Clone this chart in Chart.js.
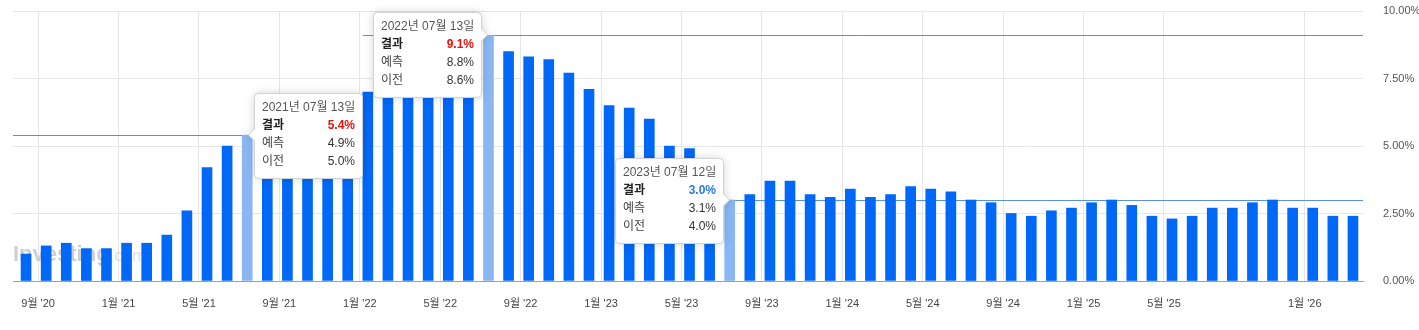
<!DOCTYPE html>
<html>
<head>
<meta charset="utf-8">
<script src="https://cdn.jsdelivr.net/npm/chart.js@4"></script>
<style>
  body { margin: 0; background: #fff; }
  canvas { display: block; }
</style>
</head>
<body>
<canvas id="grafico" width="1419" height="330"></canvas>
<script>
// release months (one bar per release)
var releaseMonths = [
  '2020-08', '2020-09', '2020-10', '2020-11', '2020-12',
  '2021-01', '2021-02', '2021-03', '2021-04', '2021-05', '2021-06', '2021-07', '2021-08', '2021-09', '2021-10', '2021-11', '2021-12',
  '2022-01', '2022-02', '2022-03', '2022-04', '2022-05', '2022-06', '2022-07', '2022-08', '2022-09', '2022-10', '2022-11', '2022-12',
  '2023-01', '2023-02', '2023-03', '2023-04', '2023-05', '2023-06', '2023-07', '2023-08', '2023-09', '2023-10', '2023-11', '2023-12',
  '2024-01', '2024-02', '2024-03', '2024-04', '2024-05', '2024-06', '2024-07', '2024-08', '2024-09', '2024-10', '2024-11', '2024-12',
  '2025-01', '2025-02', '2025-03', '2025-04', '2025-05', '2025-06', '2025-07', '2025-08', '2025-09', '2025-10', '2025-12',
  '2026-01', '2026-02', '2026-03'
];

var actual = [
  1.0, 1.3, 1.4, 1.2, 1.2,
  1.4, 1.4, 1.7, 2.6, 4.2, 5.0, 5.4, 5.4, 5.3, 5.4, 6.2, 6.8,
  7.0, 7.5, 7.9, 8.5, 8.3, 8.6, 9.1, 8.5, 8.3, 8.2, 7.7, 7.1,
  6.5, 6.4, 6.0, 5.0, 4.9, 4.0, 3.0, 3.2, 3.7, 3.7, 3.2, 3.1,
  3.4, 3.1, 3.2, 3.5, 3.4, 3.3, 3.0, 2.9, 2.5, 2.4, 2.6, 2.7,
  2.9, 3.0, 2.8, 2.4, 2.3, 2.4, 2.7, 2.7, 2.9, 3.0, 2.7,
  2.7, 2.4, 2.4
];

// x axis labels
var tickMonths = ['2020-09', '2021-01', '2021-05', '2021-09', '2022-01', '2022-05', '2022-09', '2023-01',
  '2023-05', '2023-09', '2024-01', '2024-05', '2024-09', '2025-01', '2025-05', '2026-01'];
var tickLabels = ["9월 '20", "1월 '21", "5월 '21", "9월 '21", "1월 '22", "5월 '22", "9월 '22", "1월 '23",
  "5월 '23", "9월 '23", "1월 '24", "5월 '24", "9월 '24", "1월 '25", "5월 '25", "1월 '26"];

var yTicks = [0, 2.5, 5, 7.5, 10];

// highlighted releases with their popups
var tipMonths = ['2021-07', '2022-07', '2023-07'];
var tipDates = ['2021년 07월 13일', '2022년 07월 13일', '2023년 07월 12일'];
var tipForecast = [4.9, 8.8, 3.1];
var tipPrevious = [5.0, 8.6, 4.0];

var tipIdx = tipMonths.map(function (m) { return releaseMonths.indexOf(m); });

// each month label sits just after the last release before that month
var tickPos = tickMonths.map(function (m) {
  var last = 0;
  releaseMonths.forEach(function (r, i) { if (r < m) last = i; });
  return last + 0.6;
});

var FONT = '"Liberation Sans", "Noto Sans CJK KR", sans-serif';
var BLUE = '#0068f6';
var LIGHT = '#8ab7f4';

var tipStyle = {
  side: ['right', 'left', 'left'],
  // where each guide line runs (bar index, or edge of the plot)
  lineFrom: ['left', 17, 35],
  lineTo: [11, 'right', 'right']
};

function tipPath(ctx, l, t, w, h, r, side, cy) {
  var rgt = l + w, btm = t + h, c = 6;
  ctx.beginPath();
  ctx.moveTo(l + r, t);
  ctx.lineTo(rgt - r, t);
  ctx.arcTo(rgt, t, rgt, t + r, r);
  if (side === 'left') {
    ctx.lineTo(rgt, cy - c);
    ctx.lineTo(rgt + c, cy);
    ctx.lineTo(rgt, cy + c);
  }
  ctx.lineTo(rgt, btm - r);
  ctx.arcTo(rgt, btm, rgt - r, btm, r);
  ctx.lineTo(l + r, btm);
  ctx.arcTo(l, btm, l, btm - r, r);
  if (side === 'right') {
    ctx.lineTo(l, cy + c);
    ctx.lineTo(l - c, cy);
    ctx.lineTo(l, cy - c);
  }
  ctx.lineTo(l, t + r);
  ctx.arcTo(l, t, l + r, t, r);
  ctx.closePath();
}

var marcas = {
  id: 'marcas',
  beforeDatasetsDraw: function (chart) {
    var ctx = chart.ctx, a = chart.chartArea, x = chart.scales.x, y = chart.scales.y;
    ctx.save();
    // watermark
    ctx.textBaseline = 'alphabetic';
    ctx.textAlign = 'left';
    ctx.font = 'bold 22px ' + FONT;
    ctx.fillStyle = 'rgba(175,175,175,0.6)';
    ctx.fillText('Investing', a.left, a.bottom - 20);
    var w = ctx.measureText('Investing').width;
    ctx.font = '17px ' + FONT;
    ctx.fillStyle = 'rgba(190,190,190,0.5)';
    ctx.fillText('.com', a.left + w, a.bottom - 20);

    // guide lines
    ctx.strokeStyle = '#5b8fe0';
    ctx.lineWidth = 1;
    tipIdx.forEach(function (idx, k) {
      var yy = Math.round(y.getPixelForValue(actual[idx])) + 0.5;
      var f = tipStyle.lineFrom[k], t = tipStyle.lineTo[k];
      var x0 = f === 'left' ? a.left : x.getPixelForValue(f) - 5;
      var x1 = t === 'right' ? a.right : x.getPixelForValue(t) - 5;
      ctx.beginPath();
      ctx.moveTo(x0, yy);
      ctx.lineTo(x1, yy);
      ctx.stroke();
    });
    ctx.restore();
  },
  afterDraw: function (chart) {
    var ctx = chart.ctx, a = chart.chartArea, x = chart.scales.x, y = chart.scales.y;
    var W = 108, H = 85;
    tipIdx.forEach(function (idx, k) {
      var side = tipStyle.side[k];
      var px = x.getPixelForValue(idx);
      var py = Math.round(y.getPixelForValue(actual[idx]));
      var top = Math.round(Math.max(py - H / 2, a.top + 1)) + 0.5;
      var left = Math.round(side === 'right' ? px + 7 : px - 7 - W) + 0.5;

      ctx.save();
      tipPath(ctx, left, top, W, H, 4, side, py);
      ctx.shadowColor = 'rgba(0,0,0,0.18)';
      ctx.shadowBlur = 10;
      ctx.fillStyle = '#fff';
      ctx.fill();
      ctx.shadowColor = 'transparent';
      ctx.strokeStyle = '#d2d2d2';
      ctx.lineWidth = 1;
      ctx.stroke();

      ctx.textBaseline = 'middle';
      ctx.textAlign = 'left';
      ctx.font = '12px ' + FONT;
      ctx.fillStyle = '#555';
      ctx.fillText(tipDates[k], left + 7.5, top + 14.5);

      var rows = [
        ['결과', actual[idx]],
        ['예측', tipForecast[k]],
        ['이전', tipPrevious[k]]
      ];
      rows.forEach(function (r, j) {
        var ry = top + 32.5 + j * 18;
        ctx.textAlign = 'left';
        ctx.font = (j === 0 ? 'bold ' : '') + '12px ' + FONT;
        ctx.fillStyle = j === 0 ? '#222' : '#444';
        ctx.fillText(r[0], left + 7.5, ry);
        ctx.textAlign = 'right';
        if (j === 0) {
          ctx.fillStyle = actual[idx] > tipForecast[k] ? '#e8120c' : '#2a7ae2';
        } else {
          ctx.fillStyle = '#333';
        }
        ctx.fillText(r[1].toFixed(1) + '%', left + W - 7.5, ry);
      });
      ctx.restore();
    });
  }
};

var ctx = document.getElementById('grafico').getContext('2d');

var meuGrafico = new Chart(ctx, {
  type: 'bar',
  data: {
    datasets: [{
      data: actual.map(function (v, i) { return { x: i, y: v }; }),
      backgroundColor: actual.map(function (v, i) { return tipIdx.indexOf(i) >= 0 ? LIGHT : BLUE; }),
      barThickness: 10,
      borderWidth: 0
    }]
  },
  options: {
    responsive: false,
    animation: false,
    layout: { padding: { left: 13, top: 11, right: 0, bottom: 0 } },
    plugins: {
      legend: { display: false },
      tooltip: { enabled: false }
    },
    scales: {
      x: {
        type: 'linear',
        offset: false,
        min: -0.65,
        max: 66.5,
        grid: { color: '#e6e6e6', drawTicks: false, offset: false },
        border: { color: '#a0a0a0' },
        ticks: {
          autoSkip: false,
          maxRotation: 0,
          padding: 16,
          color: '#444',
          font: { family: FONT, size: 11 },
          callback: function (v, i) { return tickLabels[i]; }
        },
        afterBuildTicks: function (s) {
          s.ticks = tickPos.map(function (p) { return { value: p }; });
        },
        afterFit: function (s) {
          s.height = 49;
          s.paddingLeft = 0;
          s.paddingRight = 0;
        }
      },
      y: {
        position: 'right',
        min: 0,
        max: 10,
        grid: { color: '#e6e6e6', drawTicks: false },
        border: { display: false },
        ticks: {
          padding: 20,
          color: '#555',
          font: { family: FONT, size: 11 },
          callback: function (v) { return v.toFixed(2) + '%'; }
        },
        afterBuildTicks: function (s) {
          s.ticks = yTicks.map(function (v) { return { value: v }; });
        },
        afterFit: function (s) {
          s.width = 56;
          s.paddingTop = 7;
          s.paddingBottom = 7;
        }
      }
    }
  },
  plugins: [marcas]
});
</script>
</body>
</html>
